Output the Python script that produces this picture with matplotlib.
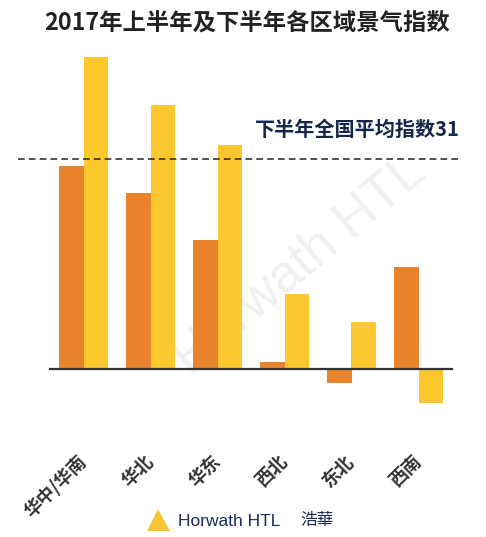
import matplotlib
matplotlib.use("Agg")
import matplotlib.pyplot as plt
from matplotlib.patches import Polygon
import numpy as np

plt.rcParams['font.family'] = ['Noto Sans CJK SC', 'DejaVu Sans']

categories = ["华中/华南", "华北", "华东", "西北", "东北", "西南"]
h1_values = [30, 26, 19, 1, -2, 15]
h2_values = [46, 39, 33, 11, 7, -5]
avg_h2 = 31
title = "2017年上半年及下半年各区域景气指数"
avg_label = "下半年全国平均指数31"

W, H = 486, 537
fig = plt.figure(figsize=(W / 100, H / 100), dpi=100)
fig.patch.set_facecolor("white")

# axes placement (pixels): x 50..452, y 50..420
ax = fig.add_axes([50 / W, (H - 420) / H, 402 / W, 370 / H])
ax.set_xlim(-0.5, 5.5)
ax.set_ylim(-7.53, 47.09)
ax.axis("off")

x = np.arange(len(categories))
bw = 0.36
orange = "#EA842C"
yellow = "#FDC72E"

# watermark (behind bars)
ax.text(300 / W, 1 - 265 / H, "Horwath HTL", transform=fig.transFigure,
        ha="center", va="center", rotation=40, fontsize=38,
        color="#F0F0F0", zorder=1, family=["Liberation Sans", "DejaVu Sans"])

ax.bar(x - bw / 2, h1_values, width=bw, color=orange, zorder=2)
ax.bar(x + bw / 2, h2_values, width=bw, color=yellow, zorder=2)

# zero line
ax.plot([-0.5, 5.5], [0, 0], color="#333333", lw=1.6, zorder=3, clip_on=False)

# average dashed line
ax.plot([-0.98, 5.62], [avg_h2, avg_h2], color="#333333", lw=1.2,
        dashes=(4, 2.5), zorder=4, clip_on=False)
ax.text(5.62, avg_h2 + 4.3, avg_label, ha="right", va="center",
        fontsize=14.5, fontweight="bold", color="#14264A")

# category labels
trans = ax.get_xaxis_transform()
for xi, lab in zip(x, categories):
    ax.text(xi - 0.1, -0.085, lab, transform=trans, rotation=45,
            rotation_mode="anchor", ha="right", va="top",
            fontsize=13, fontweight="bold", color="#333333")

# title
fig.text(247 / W, 1 - 23 / H, title, ha="center", va="center",
         fontsize=16.8, fontweight="bold", color="#222222")

# footer logo
tri = Polygon([[147 / W, 1 - 531 / H], [158 / W, 1 - 509 / H], [170 / W, 1 - 531 / H]],
              closed=True, transform=fig.transFigure, facecolor="#F6C533",
              edgecolor="none")
fig.add_artist(tri)
fig.text(178 / W, 1 - 522 / H, "Horwath HTL", ha="left", va="center",
         fontsize=12.5, color="#1B2A5A", family=["Liberation Sans", "DejaVu Sans"])
fig.text(300 / W, 1 - 521 / H, "浩華", ha="left", va="center",
         fontsize=12, color="#1B2A5A", family=["Noto Sans CJK TC", "DejaVu Sans"])

fig.savefig("out.png", dpi=100, facecolor="white")
